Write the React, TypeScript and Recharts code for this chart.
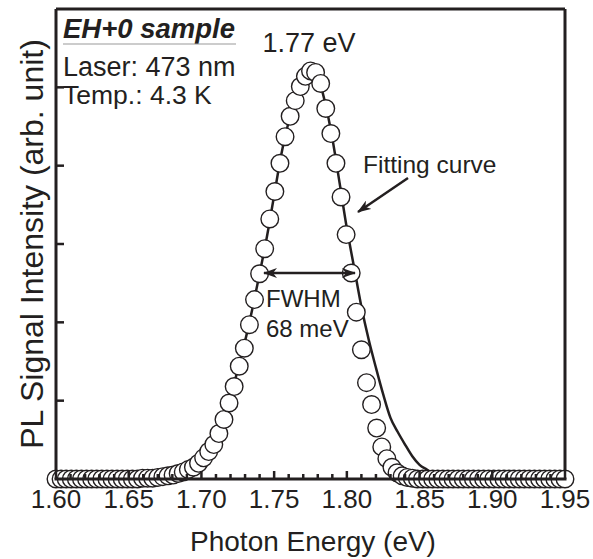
import {
  ComposedChart,
  Line,
  Scatter,
  XAxis,
  YAxis,
} from "recharts";

// measured PL spectrum (open circles)
const energy = [
  1.6, 1.6035, 1.607, 1.6105, 1.614, 1.6175, 1.621, 1.6245, 1.628, 1.6315,
  1.635, 1.6385, 1.642, 1.6455, 1.649, 1.6525, 1.656, 1.6595, 1.663, 1.6665,
  1.67, 1.6735, 1.677, 1.6805, 1.684, 1.6875, 1.691, 1.6945, 1.698, 1.7015,
  1.705, 1.7085, 1.712, 1.7155, 1.719, 1.7225, 1.726, 1.7295, 1.733, 1.7365,
  1.74, 1.7435, 1.747, 1.7505, 1.754, 1.7575, 1.761, 1.7645, 1.768, 1.7715,
  1.775, 1.7785, 1.782, 1.7855, 1.789, 1.7925, 1.796, 1.7995, 1.803, 1.8065,
  1.81, 1.8135, 1.817, 1.8205, 1.824, 1.8275, 1.831, 1.8345, 1.838, 1.8415,
  1.845, 1.8485, 1.852, 1.8555, 1.859, 1.8625, 1.866, 1.8695, 1.873, 1.8765,
  1.88, 1.8835, 1.887, 1.8905, 1.894, 1.8975, 1.901, 1.9045, 1.908, 1.9115,
  1.915, 1.9185, 1.922, 1.9255, 1.929, 1.9325, 1.936, 1.9395, 1.943, 1.9465,
  1.95,
];
const intensity = [
  0, 0, 0, 0, 0, 0, 0, 0, 0, 0,
  0, 0, 0, 0, 0, 0, 0, 0.01, 0.01, 0.01,
  0.02, 0.03, 0.04, 0.05, 0.07, 0.09, 0.12, 0.15, 0.2, 0.27,
  0.35, 0.44, 0.58, 0.76, 0.97, 1.18, 1.44, 1.67, 1.97, 2.29,
  2.62, 2.94, 3.32, 3.67, 4.03, 4.37, 4.63, 4.83, 5.01, 5.14,
  5.21, 5.19, 5.05, 4.73, 4.41, 4.03, 3.6, 3.12, 2.63, 2.13,
  1.65, 1.23, 0.95, 0.65, 0.41, 0.26, 0.15, 0.08, 0.04, 0.02,
  0.01, 0, 0, 0, 0, 0, 0, 0, 0, 0,
  0, 0, 0, 0, 0, 0, 0, 0, 0, 0,
  0, 0, 0, 0, 0, 0, 0, 0, 0, 0,
  0,
];

// fitting curve
const fitEnergy = [
  1.6, 1.605, 1.61, 1.615, 1.62, 1.625, 1.63, 1.635, 1.64, 1.645,
  1.65, 1.655, 1.66, 1.665, 1.67, 1.675, 1.68, 1.685, 1.69, 1.695,
  1.7, 1.705, 1.71, 1.715, 1.72, 1.725, 1.73, 1.735, 1.74, 1.745,
  1.75, 1.755, 1.76, 1.765, 1.77, 1.775, 1.78, 1.785, 1.79, 1.795,
  1.8, 1.805, 1.81, 1.815, 1.82, 1.825, 1.83, 1.835, 1.84, 1.845,
  1.85, 1.855, 1.86, 1.865, 1.87, 1.875, 1.88, 1.885, 1.89, 1.895,
  1.9, 1.905, 1.91, 1.915, 1.92, 1.925, 1.93, 1.935, 1.94, 1.945,
  1.95,
];
const fitIntensity = [
  0, 0, 0, 0, 0, 0, 0, 0, 0, 0,
  0, 0, 0, 0.01, 0.02, 0.03, 0.05, 0.08, 0.11, 0.17,
  0.24, 0.35, 0.5, 0.73, 1.04, 1.4, 1.76, 2.17, 2.62, 3.09,
  3.62, 4.15, 4.56, 4.9, 5.13, 5.21, 5.12, 4.81, 4.35, 3.78,
  3.2, 2.7, 2.2, 1.78, 1.42, 1.08, 0.78, 0.6, 0.44, 0.29,
  0.18, 0.12, 0.06, 0.03, 0.01, 0, 0, 0, 0, 0,
  0, 0, 0, 0, 0, 0, 0, 0, 0, 0,
  0,
];

const xDomain = [1.6, 1.95];
const xMajor = [1.6, 1.65, 1.7, 1.75, 1.8, 1.85, 1.9, 1.95];
const xTicks = [
  1.6, 1.61, 1.62, 1.63, 1.64, 1.65, 1.66, 1.67, 1.68, 1.69,
  1.7, 1.71, 1.72, 1.73, 1.74, 1.75, 1.76, 1.77, 1.78, 1.79,
  1.8, 1.81, 1.82, 1.83, 1.84, 1.85, 1.86, 1.87, 1.88, 1.89,
  1.9, 1.91, 1.92, 1.93, 1.94, 1.95,
];
const yTicks = [1, 2, 3, 4, 5];

const ink = "#231f20";
const font = "'Liberation Sans', Arial, Helvetica, sans-serif";

// plot box (matches the chart margins below)
const plotLeft = 56;
const plotRight = 565;
const plotBottom = 479;
const xPx = (v: number) =>
  plotLeft + ((v - xDomain[0]) / (xDomain[1] - xDomain[0])) * (plotRight - plotLeft);

const isMajor = (v: number) => xMajor.some((m) => Math.abs(m - v) < 1e-6);
const points = energy.map((x, i) => ({ x, y: intensity[i] }));
const fit = fitEnergy.map((x, i) => ({ x, y: fitIntensity[i] }));

const XTick = (props: any) => {
  const { x, y, payload } = props;
  if (!isMajor(payload.value)) return <g />;
  return (
    <text x={x} y={y + 29} textAnchor="middle" fontFamily={font} fontSize={26} fill={ink} stroke="none">
      {payload.value.toFixed(2)}
    </text>
  );
};

const YTick = (props: any) => {
  const { x, y } = props;
  return <line x1={x} x2={x + 8} y1={y} y2={y} stroke={ink} strokeWidth={2.5} />;
};

const Circle = (props: any) => (
  <circle cx={props.cx} cy={props.cy} r={8.8} fill="#fff" stroke={ink} strokeWidth={1.4} />
);

export default function App() {
  return (
    <div style={{ position: "absolute", left: 0, top: 0, width: 593, height: 559, background: "#fff" }}>
      <ComposedChart width={593} height={559} margin={{ top: 8, right: 27, bottom: 79, left: 55 }}>
        <XAxis
          xAxisId="b"
          type="number"
          dataKey="x"
          domain={xDomain}
          ticks={xTicks}
          interval={0}
          height={1}
          tickSize={0}
          tickMargin={0}
          tickLine={false}
          tick={<XTick />}
          axisLine={false}
        />
        <XAxis
          xAxisId="t"
          orientation="top"
          type="number"
          domain={xDomain}
          height={1}
          tick={false}
          tickLine={false}
          axisLine={{ stroke: ink, strokeWidth: 3 }}
          stroke={ink}
        />
        <YAxis
          yAxisId="l"
          type="number"
          domain={[0, 6]}
          ticks={yTicks}
          width={1}
          tickSize={0}
          tickMargin={0}
          tickLine={false}
          tick={<YTick />}
          axisLine={{ stroke: ink, strokeWidth: 3 }}
          stroke={ink}
        />
        <YAxis
          yAxisId="r"
          orientation="right"
          type="number"
          domain={[0, 6]}
          width={1}
          tick={false}
          tickLine={false}
          axisLine={{ stroke: ink, strokeWidth: 3 }}
          stroke={ink}
        />
        <Line
          xAxisId="b"
          yAxisId="l"
          data={fit}
          dataKey="y"
          type="monotone"
          stroke={ink}
          strokeWidth={2.5}
          dot={false}
          isAnimationActive={false}
        />
        <Scatter
          xAxisId="b"
          yAxisId="l"
          data={points}
          dataKey="y"
          shape={Circle}
          isAnimationActive={false}
        />
      </ComposedChart>
      <svg
        width={593}
        height={559}
        style={{ position: "absolute", left: 0, top: 0, pointerEvents: "none" }}
        fontFamily={font}
        fill={ink}
      >
        <defs>
          <marker id="head" viewBox="0 0 14 10" refX="13" refY="5" markerWidth="14" markerHeight="10" markerUnits="userSpaceOnUse" orient="auto-start-reverse">
            <path d="M0,0 L14,5 L0,10 L4,5 Z" fill={ink} />
          </marker>
        </defs>
        {/* bottom frame with inward ticks */}
        <line x1={plotLeft - 1.5} x2={plotRight + 1.5} y1={plotBottom} y2={plotBottom} stroke={ink} strokeWidth={3} />
        {xTicks.map((t) => (
          <line
            key={t}
            x1={xPx(t)}
            x2={xPx(t)}
            y1={plotBottom}
            y2={plotBottom - (isMajor(t) ? 8 : 5)}
            stroke={ink}
            strokeWidth={2.5}
          />
        ))}
        <text x={63} y={38} fontSize={27.5} fontWeight="bold" fontStyle="italic">EH+0 sample</text>
        <line x1={63} x2={236} y1={44} y2={44} stroke="#9a9a9a" strokeWidth={1.2} />
        <text x={63} y={76} fontSize={27}>Laser: 473 nm</text>
        <text x={63} y={104} fontSize={26.5}>Temp.: 4.3 K</text>
        <text x={309} y={52} fontSize={27} textAnchor="middle">1.77 eV</text>
        <text x={363} y={173} fontSize={24.5}>Fitting curve</text>
        <line x1={408} y1={178} x2={358} y2={212} stroke={ink} strokeWidth={2.5} markerEnd="url(#head)" />
        <line x1={264} y1={273} x2={355} y2={273} stroke={ink} strokeWidth={2.5} markerStart="url(#head)" markerEnd="url(#head)" />
        <text x={266} y={307} fontSize={24}>FWHM</text>
        <text x={266} y={337} fontSize={24}>68 meV</text>
        <text x={313} y={551} fontSize={28} textAnchor="middle">Photon Energy (eV)</text>
        <text x={43} y={244} fontSize={32} textAnchor="middle" transform="rotate(-90 43 244)">
          PL Signal Intensity (arb. unit)
        </text>
      </svg>
    </div>
  );
}
